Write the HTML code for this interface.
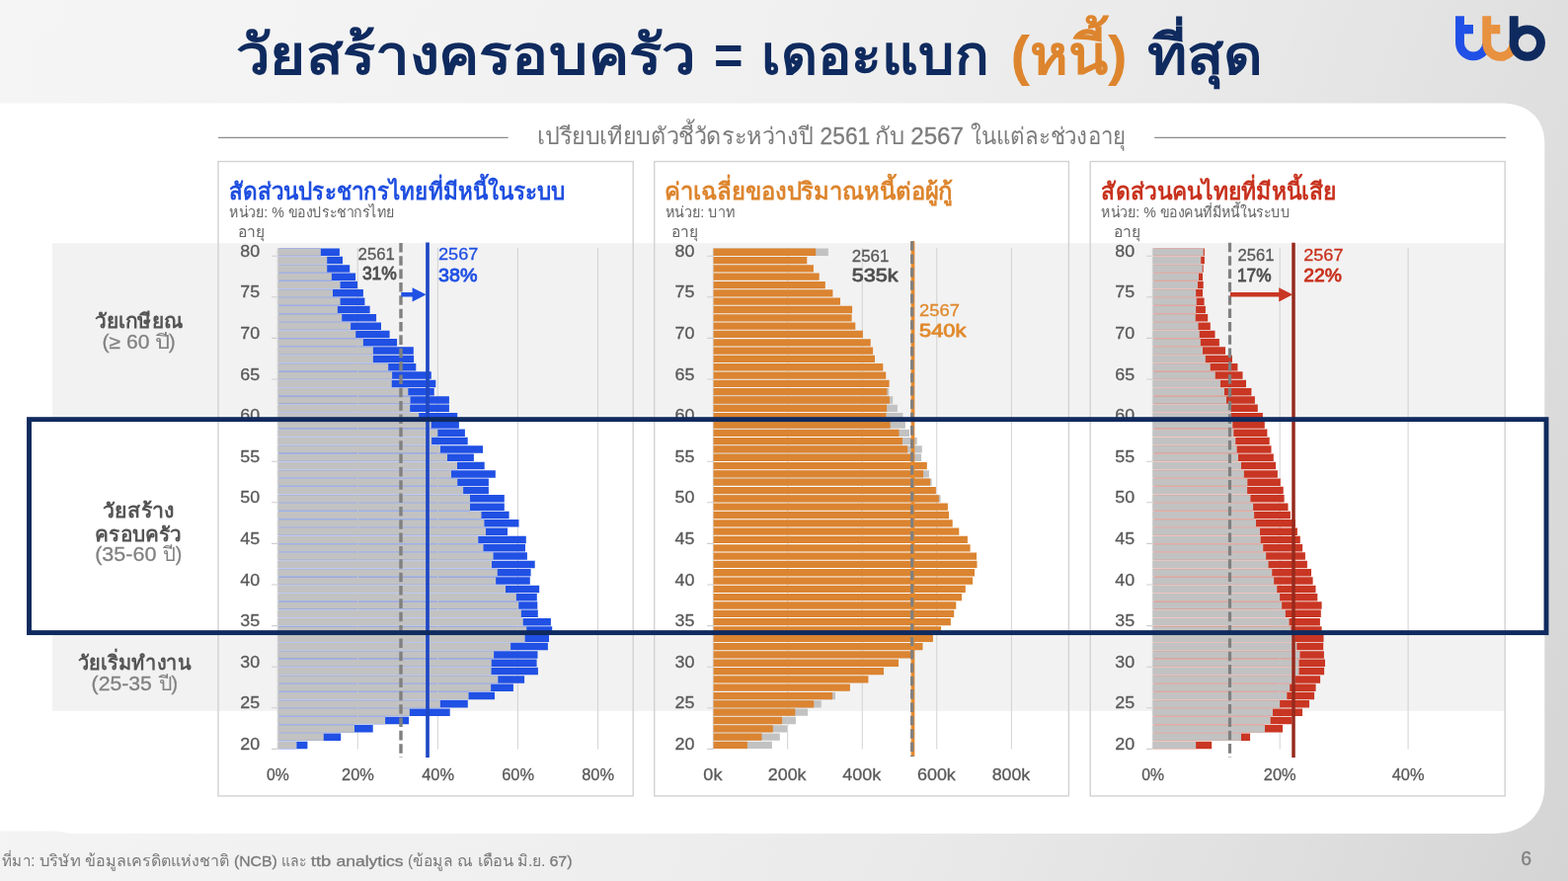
<!DOCTYPE html>
<html lang="th"><head><meta charset="utf-8"><title>วัยสร้างครอบครัว = เดอะแบก (หนี้) ที่สุด</title>
<style>html,body{margin:0;padding:0;background:#eee;overflow:hidden}body{width:1588px;height:892px;font-family:"Liberation Sans",sans-serif}</style></head>
<body>
<svg width="1588" height="892" viewBox="0 0 1588 892" style="display:block;will-change:transform;font-family:'Liberation Sans',sans-serif">
<defs>
<linearGradient id="bg" gradientUnits="userSpaceOnUse" x1="0" y1="0" x2="1693" y2="592"><stop offset="0" stop-color="#f5f5f5"/><stop offset="0.42" stop-color="#f0f0f0"/><stop offset="0.66" stop-color="#e9e9e9"/><stop offset="0.84" stop-color="#dfdfdf"/><stop offset="1" stop-color="#d4d4d4"/></linearGradient>
</defs>
<rect width="1588" height="892" fill="url(#bg)"/>
<path d="M-5 104.6H1522C1547.4 104.6 1564.3 120.4 1564.3 144V796C1564.3 824.8 1543.4 844 1512 844H78Q70 844 64 842.4Q60 841.5 54 841.5H-5Z" fill="#fff"/>
<rect x="53" y="246.2" width="1472" height="179" fill="#f2f2f2"/>
<rect x="53" y="640" width="1472" height="79.8" fill="#f2f2f2"/>
<path d="M221 139.4H514.7M1169.2 139.4H1525.2" stroke="#8c8c8c" stroke-width="1.2"/>
<rect x="221" y="163.5" width="420.2" height="642.4" fill="none" stroke="#d2d2d2" stroke-width="1.4"/>
<rect x="662.7" y="163.5" width="419.7" height="642.4" fill="none" stroke="#d2d2d2" stroke-width="1.4"/>
<rect x="1104.2" y="163.5" width="420" height="642.4" fill="none" stroke="#d2d2d2" stroke-width="1.4"/>
<path d="M281.2 251.1V758.62" stroke="#d0d0d0" stroke-width="1" fill="none"/>
<path d="M275 259.22H281.5M275 300.82H281.5M275 342.42H281.5M275 384.02H281.5M275 425.62H281.5M275 467.22H281.5M275 508.82H281.5M275 550.42H281.5M275 592.02H281.5M275 633.62H281.5M275 675.22H281.5M275 716.82H281.5M275 758.42H281.5" stroke="#cfcfcf" stroke-width="1.1" fill="none"/>
<path d="M282.1 251.31H324.9V259.21H282.1ZM282.1 259.63H331.2V267.53H282.1ZM282.1 267.95H331.2V275.85H282.1ZM282.1 276.27H335.9V284.17H282.1ZM282.1 284.59H344.6V292.49H282.1ZM282.1 292.91H337V300.81H282.1ZM282.1 301.23H344.6V309.13H282.1ZM282.1 309.55H341.9V317.45H282.1ZM282.1 317.87H346.2V325.77H282.1ZM282.1 326.19H355.1V334.09H282.1ZM282.1 334.51H360.2V342.41H282.1ZM282.1 342.83H367.9V350.73H282.1ZM282.1 351.15H377.9V359.05H282.1ZM282.1 359.47H377.9V367.37H282.1ZM282.1 367.79H393.2V375.69H282.1ZM282.1 376.11H397.1V384.01H282.1ZM282.1 384.43H396.8V392.33H282.1ZM282.1 392.75H413.3V400.65H282.1ZM282.1 401.07H415.6V408.97H282.1ZM282.1 409.39H415.2V417.29H282.1ZM282.1 417.71H424.2V425.61H282.1ZM282.1 426.03H436.8V433.93H282.1ZM282.1 434.35H443.3V442.25H282.1ZM282.1 442.67H437.1V450.57H282.1ZM282.1 450.99H446V458.89H282.1ZM282.1 459.31H453V467.21H282.1ZM282.1 467.63H463V475.53H282.1ZM282.1 475.95H457V483.85H282.1ZM282.1 484.27H463.2V492.17H282.1ZM282.1 492.59H469.1V500.49H282.1ZM282.1 500.91H476V508.81H282.1ZM282.1 509.23H476V517.13H282.1ZM282.1 517.55H487.5V525.45H282.1ZM282.1 525.87H490.4V533.77H282.1ZM282.1 534.19H492V542.09H282.1ZM282.1 542.51H484.3V550.41H282.1ZM282.1 550.83H489.5V558.73H282.1ZM282.1 559.15H499.6V567.05H282.1ZM282.1 567.47H498V575.37H282.1ZM282.1 575.79H503.8V583.69H282.1ZM282.1 584.11H502.1V592.01H282.1ZM282.1 592.43H512V600.33H282.1ZM282.1 600.75H522.9V608.65H282.1ZM282.1 609.07H525.2V616.97H282.1ZM282.1 617.39H527.9V625.29H282.1ZM282.1 625.71H529.8V633.61H282.1ZM282.1 634.03H533.2V641.93H282.1ZM282.1 642.35H531.7V650.25H282.1ZM282.1 650.67H517.1V658.57H282.1ZM282.1 658.99H500.1V666.89H282.1ZM282.1 667.31H497.8V675.21H282.1ZM282.1 675.63H497.6V683.53H282.1ZM282.1 683.95H504.3V691.85H282.1ZM282.1 692.27H497.1V700.17H282.1ZM282.1 700.59H474.6V708.49H282.1ZM282.1 708.91H445.9V716.81H282.1ZM282.1 717.23H414.9V725.13H282.1ZM282.1 725.55H390.1V733.45H282.1ZM282.1 733.87H359V741.77H282.1ZM282.1 742.19H327.8V750.09H282.1ZM282.1 750.51H300.4V758.41H282.1Z" fill="#7f97e8"/>
<path d="M362.3 251.1V758.62M443.4 251.1V758.62M524.4 251.1V758.62M605.5 251.1V758.62" stroke="#cdcdcd" stroke-opacity="0.8" stroke-width="1.1" fill="none"/>
<path d="M281.5 251.69H324.9V258.83H281.5ZM281.5 260.01H331.2V267.16H281.5ZM281.5 268.33H331.2V275.48H281.5ZM281.5 276.65H335.9V283.8H281.5ZM281.5 284.97H344.6V292.12H281.5ZM281.5 293.29H337V300.44H281.5ZM281.5 301.61H344.6V308.75H281.5ZM281.5 309.93H341.9V317.07H281.5ZM281.5 318.25H346.2V325.39H281.5ZM281.5 326.57H355.1V333.72H281.5ZM281.5 334.89H360.2V342.04H281.5ZM281.5 343.21H367.9V350.36H281.5ZM281.5 351.53H377.9V358.68H281.5ZM281.5 359.85H377.9V367H281.5ZM281.5 368.17H393.2V375.31H281.5ZM281.5 376.49H397.1V383.63H281.5ZM281.5 384.81H396.8V391.96H281.5ZM281.5 393.12H413.3V400.27H281.5ZM281.5 401.45H415.6V408.6H281.5ZM281.5 409.77H415.2V416.92H281.5ZM281.5 418.09H424.2V425.24H281.5ZM281.5 426.41H436.8V433.56H281.5ZM281.5 434.73H443.3V441.88H281.5ZM281.5 443.05H437.1V450.2H281.5ZM281.5 451.37H446V458.51H281.5ZM281.5 459.69H453V466.84H281.5ZM281.5 468H463V475.15H281.5ZM281.5 476.33H457V483.48H281.5ZM281.5 484.65H463.2V491.8H281.5ZM281.5 492.97H469.1V500.12H281.5ZM281.5 501.29H476V508.44H281.5ZM281.5 509.6H476V516.75H281.5ZM281.5 517.92H487.5V525.08H281.5ZM281.5 526.24H490.4V533.39H281.5ZM281.5 534.56H492V541.72H281.5ZM281.5 542.88H484.3V550.03H281.5ZM281.5 551.2H489.5V558.36H281.5ZM281.5 559.52H499.6V566.68H281.5ZM281.5 567.84H498V575H281.5ZM281.5 576.16H503.8V583.32H281.5ZM281.5 584.48H502.1V591.63H281.5ZM281.5 592.8H512V599.96H281.5ZM281.5 601.12H522.9V608.27H281.5ZM281.5 609.44H525.2V616.6H281.5ZM281.5 617.76H527.9V624.92H281.5ZM281.5 626.08H529.8V633.24H281.5ZM281.5 634.4H533.2V641.56H281.5ZM281.5 642.72H531.7V649.88H281.5ZM281.5 651.04H517.1V658.2H281.5ZM281.5 659.36H500.1V666.51H281.5ZM281.5 667.68H497.8V674.84H281.5ZM281.5 676H497.6V683.15H281.5ZM281.5 684.32H504.3V691.48H281.5ZM281.5 692.64H497.1V699.8H281.5ZM281.5 700.96H474.6V708.12H281.5ZM281.5 709.28H445.9V716.44H281.5ZM281.5 717.6H414.9V724.75H281.5ZM281.5 725.92H390.1V733.08H281.5ZM281.5 734.24H359V741.39H281.5ZM281.5 742.56H327.8V749.72H281.5ZM281.5 750.88H300.4V758.04H281.5Z" fill="#c2c2c2"/>
<path d="M324.9 251.51H343.9V259.01H324.9ZM331.2 259.83H347V267.33H331.2ZM331.2 268.15H354.2V275.65H331.2ZM335.9 276.47H360.1V283.97H335.9ZM344.6 284.79H362V292.29H344.6ZM337 293.11H367.9V300.61H337ZM344.6 301.43H369.4V308.93H344.6ZM341.9 309.75H374.6V317.25H341.9ZM346.2 318.07H381.1V325.57H346.2ZM355.1 326.39H386V333.89H355.1ZM360.2 334.71H394.6V342.21H360.2ZM367.9 343.03H402.1V350.53H367.9ZM377.9 351.35H418.8V358.85H377.9ZM377.9 359.67H419.1V367.17H377.9ZM393.2 367.99H421.3V375.49H393.2ZM397.1 376.31H436.8V383.81H397.1ZM396.8 384.63H441.3V392.13H396.8ZM413.3 392.95H439.7V400.45H413.3ZM415.6 401.27H454.9V408.77H415.6ZM415.2 409.59H454.9V417.09H415.2ZM424.2 417.91H463.2V425.41H424.2ZM436.8 426.23H464.9V433.73H436.8ZM443.3 434.55H470.9V442.05H443.3ZM437.1 442.87H473.7V450.37H437.1ZM446 451.19H489V458.69H446ZM453 459.51H479.9V467.01H453ZM463 467.83H490.7V475.33H463ZM457 476.15H501.8V483.65H457ZM463.2 484.47H494.9V491.97H463.2ZM469.1 492.79H494.9V500.29H469.1ZM476 501.11H510.8V508.61H476ZM476 509.43H510.8V516.93H476ZM487.5 517.75H515.6V525.25H487.5ZM490.4 526.07H525.5V533.57H490.4ZM492 534.39H514V541.89H492ZM484.3 542.71H532.8V550.21H484.3ZM489.5 551.03H532V558.53H489.5ZM499.6 559.35H533.9V566.85H499.6ZM498 567.67H541.7V575.17H498ZM503.8 575.99H537.6V583.49H503.8ZM502.1 584.31H536.8V591.81H502.1ZM512 592.63H546.2V600.13H512ZM522.9 600.95H543.8V608.45H522.9ZM525.2 609.27H544.3V616.77H525.2ZM527.9 617.59H544.8V625.09H527.9ZM529.8 625.91H557.9V633.41H529.8ZM533.2 634.23H559.2V641.73H533.2ZM531.7 642.55H556V650.05H531.7ZM517.1 650.87H554.9V658.37H517.1ZM500.1 659.19H544.5V666.69H500.1ZM497.8 667.51H543.6V675.01H497.8ZM497.6 675.83H544.9V683.33H497.6ZM504.3 684.15H531.1V691.65H504.3ZM497.1 692.47H519.9V699.97H497.1ZM474.6 700.79H501V708.29H474.6ZM445.9 709.11H473.8V716.61H445.9ZM414.9 717.43H455.7V724.93H414.9ZM390.1 725.75H414.1V733.25H390.1ZM359 734.07H377.7V741.57H359ZM327.8 742.39H345.2V749.89H327.8ZM300.4 750.71H311.4V758.21H300.4Z" fill="#2050e4"/>
<path d="M406 245.9V767" stroke="#808080" stroke-width="3.4" stroke-dasharray="9.55 3.8" fill="none"/>
<path d="M433 245.4V767" stroke="#1f48c4" stroke-width="3.7" fill="none"/>
<path d="M406.3 296.1H417.6V291.2L431.6 298.3L417.6 305.5V300.5H406.3Z" fill="#2050e4"/>
<text x="243.2" y="259.76" font-size="17.2" fill="#595959" stroke="#595959" stroke-width="0.3" textLength="19.9" lengthAdjust="spacingAndGlyphs">80</text>
<text x="243.2" y="301.36" font-size="17.2" fill="#595959" stroke="#595959" stroke-width="0.3" textLength="19.9" lengthAdjust="spacingAndGlyphs">75</text>
<text x="243.2" y="342.96" font-size="17.2" fill="#595959" stroke="#595959" stroke-width="0.3" textLength="19.9" lengthAdjust="spacingAndGlyphs">70</text>
<text x="243.2" y="384.56" font-size="17.2" fill="#595959" stroke="#595959" stroke-width="0.3" textLength="19.9" lengthAdjust="spacingAndGlyphs">65</text>
<text x="243.2" y="426.16" font-size="17.2" fill="#595959" stroke="#595959" stroke-width="0.3" textLength="19.9" lengthAdjust="spacingAndGlyphs">60</text>
<text x="243.2" y="467.76" font-size="17.2" fill="#595959" stroke="#595959" stroke-width="0.3" textLength="19.9" lengthAdjust="spacingAndGlyphs">55</text>
<text x="243.2" y="509.36" font-size="17.2" fill="#595959" stroke="#595959" stroke-width="0.3" textLength="19.9" lengthAdjust="spacingAndGlyphs">50</text>
<text x="243.2" y="550.96" font-size="17.2" fill="#595959" stroke="#595959" stroke-width="0.3" textLength="19.9" lengthAdjust="spacingAndGlyphs">45</text>
<text x="243.2" y="592.56" font-size="17.2" fill="#595959" stroke="#595959" stroke-width="0.3" textLength="19.9" lengthAdjust="spacingAndGlyphs">40</text>
<text x="243.2" y="634.16" font-size="17.2" fill="#595959" stroke="#595959" stroke-width="0.3" textLength="19.9" lengthAdjust="spacingAndGlyphs">35</text>
<text x="243.2" y="675.76" font-size="17.2" fill="#595959" stroke="#595959" stroke-width="0.3" textLength="19.9" lengthAdjust="spacingAndGlyphs">30</text>
<text x="243.2" y="717.36" font-size="17.2" fill="#595959" stroke="#595959" stroke-width="0.3" textLength="19.9" lengthAdjust="spacingAndGlyphs">25</text>
<text x="243.2" y="758.96" font-size="17.2" fill="#595959" stroke="#595959" stroke-width="0.3" textLength="19.9" lengthAdjust="spacingAndGlyphs">20</text>
<text x="270.1" y="790.3" font-size="17.3" fill="#595959" stroke="#595959" stroke-width="0.3" textLength="22.8" lengthAdjust="spacingAndGlyphs">0%</text>
<text x="346.1" y="790.3" font-size="17.3" fill="#595959" stroke="#595959" stroke-width="0.3" textLength="32.8" lengthAdjust="spacingAndGlyphs">20%</text>
<text x="427.2" y="790.3" font-size="17.3" fill="#595959" stroke="#595959" stroke-width="0.3" textLength="32.8" lengthAdjust="spacingAndGlyphs">40%</text>
<text x="508.2" y="790.3" font-size="17.3" fill="#595959" stroke="#595959" stroke-width="0.3" textLength="32.8" lengthAdjust="spacingAndGlyphs">60%</text>
<text x="589.2" y="790.3" font-size="17.3" fill="#595959" stroke="#595959" stroke-width="0.3" textLength="32.8" lengthAdjust="spacingAndGlyphs">80%</text>
<text x="362.6" y="263" font-size="17.3" fill="#595959" stroke="#595959" stroke-width="0.3" textLength="37.2" lengthAdjust="spacingAndGlyphs">2561</text>
<text x="366.9" y="282.8" font-size="19.1" fill="#505050" stroke="#505050" stroke-width="0.85" stroke-linejoin="round" textLength="35" lengthAdjust="spacingAndGlyphs">31%</text>
<text x="444" y="263" font-size="17.3" fill="#2050e4" stroke="#2050e4" stroke-width="0.3" textLength="40.4" lengthAdjust="spacingAndGlyphs">2567</text>
<text x="444" y="285" font-size="19.1" fill="#2050e4" stroke="#2050e4" stroke-width="0.85" stroke-linejoin="round" textLength="39.4" lengthAdjust="spacingAndGlyphs">38%</text>
<path d="M722.3 251.1V758.62" stroke="#d0d0d0" stroke-width="1" fill="none"/>
<path d="M716.1 259.22H722.6M716.1 300.82H722.6M716.1 342.42H722.6M716.1 384.02H722.6M716.1 425.62H722.6M716.1 467.22H722.6M716.1 508.82H722.6M716.1 550.42H722.6M716.1 592.02H722.6M716.1 633.62H722.6M716.1 675.22H722.6M716.1 716.82H722.6M716.1 758.42H722.6" stroke="#cfcfcf" stroke-width="1.1" fill="none"/>
<path d="M722.6 251.61H838.9V258.91H722.6ZM722.6 393.05H900.3V400.35H722.6ZM722.6 401.37H904.2V408.67H722.6ZM722.6 409.69H908.9V416.99H722.6ZM722.6 418.01H914.4V425.31H722.6ZM722.6 426.33H916.9V433.63H722.6ZM722.6 434.65H921V441.95H722.6ZM722.6 442.97H928.7V450.27H722.6ZM722.6 451.29H933.8V458.59H722.6ZM722.6 459.61H933.1V466.91H722.6ZM722.6 476.25H940.9V483.55H722.6ZM722.6 484.57H943.6V491.87H722.6ZM722.6 501.21H952.6V508.51H722.6ZM722.6 700.89H846.1V708.19H722.6ZM722.6 709.21H831.8V716.51H722.6ZM722.6 717.53H818V724.83H722.6ZM722.6 725.85H805.9V733.15H722.6ZM722.6 734.17H797.2V741.47H722.6ZM722.6 742.49H789.8V749.79H722.6ZM722.6 750.81H781.9V758.11H722.6Z" fill="#c2c2c2"/>
<path d="M797.6 251.1V758.62M873.3 251.1V758.62M948.7 251.1V758.62M1024.4 251.1V758.62" stroke="#cdcdcd" stroke-opacity="0.8" stroke-width="1.1" fill="none"/>
<path d="M722.6 251.61H826.1V258.91H722.6ZM722.6 259.93H817.3V267.23H722.6ZM722.6 268.25H823.9V275.55H722.6ZM722.6 276.57H829.7V283.87H722.6ZM722.6 284.89H835.8V292.19H722.6ZM722.6 293.21H843.4V300.51H722.6ZM722.6 301.53H851V308.83H722.6ZM722.6 309.85H863.1V317.15H722.6ZM722.6 318.17H862.6V325.47H722.6ZM722.6 326.49H866.3V333.79H722.6ZM722.6 334.81H873.9V342.11H722.6ZM722.6 343.13H881.7V350.43H722.6ZM722.6 351.45H884.1V358.75H722.6ZM722.6 359.77H886V367.07H722.6ZM722.6 368.09H894.3V375.39H722.6ZM722.6 376.41H897.2V383.71H722.6ZM722.6 384.73H900.6V392.03H722.6ZM722.6 393.05H898.4V400.35H722.6ZM722.6 401.37H900.9V408.67H722.6ZM722.6 409.69H898.1V416.99H722.6ZM722.6 418.01H897.4V425.31H722.6ZM722.6 426.33H901.6V433.63H722.6ZM722.6 434.65H910.5V441.95H722.6ZM722.6 442.97H914V450.27H722.6ZM722.6 451.29H919.2V458.59H722.6ZM722.6 459.61H923V466.91H722.6ZM722.6 467.93H938.8V475.23H722.6ZM722.6 476.25H935.1V483.55H722.6ZM722.6 484.57H942.1V491.87H722.6ZM722.6 492.89H947.9V500.19H722.6ZM722.6 501.21H950.9V508.51H722.6ZM722.6 509.53H959.9V516.83H722.6ZM722.6 517.85H961.1V525.15H722.6ZM722.6 526.17H964.7V533.47H722.6ZM722.6 534.49H971.3V541.79H722.6ZM722.6 542.81H979.9V550.11H722.6ZM722.6 551.13H982.6V558.43H722.6ZM722.6 559.45H989V566.75H722.6ZM722.6 567.77H989.5V575.07H722.6ZM722.6 576.09H987V583.39H722.6ZM722.6 584.41H985.1V591.71H722.6ZM722.6 592.73H977.8V600.03H722.6ZM722.6 601.05H974V608.35H722.6ZM722.6 609.37H968.3V616.67H722.6ZM722.6 617.69H966.2V624.99H722.6ZM722.6 626.01H962.9V633.31H722.6ZM722.6 634.33H953.1V641.63H722.6ZM722.6 642.65H944.9V649.95H722.6ZM722.6 650.97H934.5V658.27H722.6ZM722.6 659.29H922.8V666.59H722.6ZM722.6 667.61H910V674.91H722.6ZM722.6 675.93H895V683.23H722.6ZM722.6 684.25H879.4V691.55H722.6ZM722.6 692.57H860.9V699.87H722.6ZM722.6 700.89H843.1V708.19H722.6ZM722.6 709.21H824.2V716.51H722.6ZM722.6 717.53H805.3V724.83H722.6ZM722.6 725.85H792.1V733.15H722.6ZM722.6 734.17H782.8V741.47H722.6ZM722.6 742.49H771.5V749.79H722.6ZM722.6 750.81H756.9V758.11H722.6Z" fill="#db8431"/>
<path d="M924.5 244V766" stroke="#e88a2b" stroke-width="3.7" fill="none"/>
<path d="M923.7 244.2V766" stroke="#808080" stroke-width="3.3" stroke-dasharray="9.55 3.8" fill="none"/>
<text x="683.5" y="259.76" font-size="17.2" fill="#595959" stroke="#595959" stroke-width="0.3" textLength="19.9" lengthAdjust="spacingAndGlyphs">80</text>
<text x="683.5" y="301.36" font-size="17.2" fill="#595959" stroke="#595959" stroke-width="0.3" textLength="19.9" lengthAdjust="spacingAndGlyphs">75</text>
<text x="683.5" y="342.96" font-size="17.2" fill="#595959" stroke="#595959" stroke-width="0.3" textLength="19.9" lengthAdjust="spacingAndGlyphs">70</text>
<text x="683.5" y="384.56" font-size="17.2" fill="#595959" stroke="#595959" stroke-width="0.3" textLength="19.9" lengthAdjust="spacingAndGlyphs">65</text>
<text x="683.5" y="426.16" font-size="17.2" fill="#595959" stroke="#595959" stroke-width="0.3" textLength="19.9" lengthAdjust="spacingAndGlyphs">60</text>
<text x="683.5" y="467.76" font-size="17.2" fill="#595959" stroke="#595959" stroke-width="0.3" textLength="19.9" lengthAdjust="spacingAndGlyphs">55</text>
<text x="683.5" y="509.36" font-size="17.2" fill="#595959" stroke="#595959" stroke-width="0.3" textLength="19.9" lengthAdjust="spacingAndGlyphs">50</text>
<text x="683.5" y="550.96" font-size="17.2" fill="#595959" stroke="#595959" stroke-width="0.3" textLength="19.9" lengthAdjust="spacingAndGlyphs">45</text>
<text x="683.5" y="592.56" font-size="17.2" fill="#595959" stroke="#595959" stroke-width="0.3" textLength="19.9" lengthAdjust="spacingAndGlyphs">40</text>
<text x="683.5" y="634.16" font-size="17.2" fill="#595959" stroke="#595959" stroke-width="0.3" textLength="19.9" lengthAdjust="spacingAndGlyphs">35</text>
<text x="683.5" y="675.76" font-size="17.2" fill="#595959" stroke="#595959" stroke-width="0.3" textLength="19.9" lengthAdjust="spacingAndGlyphs">30</text>
<text x="683.5" y="717.36" font-size="17.2" fill="#595959" stroke="#595959" stroke-width="0.3" textLength="19.9" lengthAdjust="spacingAndGlyphs">25</text>
<text x="683.5" y="758.96" font-size="17.2" fill="#595959" stroke="#595959" stroke-width="0.3" textLength="19.9" lengthAdjust="spacingAndGlyphs">20</text>
<text x="712.35" y="790.3" font-size="17.3" fill="#595959" stroke="#595959" stroke-width="0.3" textLength="19.1" lengthAdjust="spacingAndGlyphs">0k</text>
<text x="777.85" y="790.3" font-size="17.3" fill="#595959" stroke="#595959" stroke-width="0.3" textLength="38.7" lengthAdjust="spacingAndGlyphs">200k</text>
<text x="853.35" y="790.3" font-size="17.3" fill="#595959" stroke="#595959" stroke-width="0.3" textLength="38.9" lengthAdjust="spacingAndGlyphs">400k</text>
<text x="928.95" y="790.3" font-size="17.3" fill="#595959" stroke="#595959" stroke-width="0.3" textLength="38.9" lengthAdjust="spacingAndGlyphs">600k</text>
<text x="1004.75" y="790.3" font-size="17.3" fill="#595959" stroke="#595959" stroke-width="0.3" textLength="38.5" lengthAdjust="spacingAndGlyphs">800k</text>
<text x="862.8" y="265.2" font-size="17.3" fill="#595959" stroke="#595959" stroke-width="0.3" textLength="37.5" lengthAdjust="spacingAndGlyphs">2561</text>
<text x="862.8" y="285" font-size="19.1" fill="#505050" stroke="#505050" stroke-width="0.85" stroke-linejoin="round" textLength="46.6" lengthAdjust="spacingAndGlyphs">535k</text>
<text x="931.1" y="320.1" font-size="17.3" fill="#e08a2e" stroke="#e08a2e" stroke-width="0.3" textLength="40.8" lengthAdjust="spacingAndGlyphs">2567</text>
<text x="931.1" y="340.9" font-size="19.1" fill="#e08a2e" stroke="#e08a2e" stroke-width="0.85" stroke-linejoin="round" textLength="47.2" lengthAdjust="spacingAndGlyphs">540k</text>
<path d="M1167.3 251.1V758.62" stroke="#d0d0d0" stroke-width="1" fill="none"/>
<path d="M1161.1 259.22H1167.6M1161.1 300.82H1167.6M1161.1 342.42H1167.6M1161.1 384.02H1167.6M1161.1 425.62H1167.6M1161.1 467.22H1167.6M1161.1 508.82H1167.6M1161.1 550.42H1167.6M1161.1 592.02H1167.6M1161.1 633.62H1167.6M1161.1 675.22H1167.6M1161.1 716.82H1167.6M1161.1 758.42H1167.6" stroke="#cfcfcf" stroke-width="1.1" fill="none"/>
<path d="M1168.2 251.31H1218.8V259.21H1168.2ZM1168.2 259.63H1216.2V267.53H1168.2ZM1168.2 267.95H1217.7V275.85H1168.2ZM1168.2 276.27H1214V284.17H1168.2ZM1168.2 284.59H1213V292.49H1168.2ZM1168.2 292.91H1211.1V300.81H1168.2ZM1168.2 301.23H1211.8V309.13H1168.2ZM1168.2 309.55H1211.1V317.45H1168.2ZM1168.2 317.87H1210.8V325.77H1168.2ZM1168.2 326.19H1213.6V334.09H1168.2ZM1168.2 334.51H1214.8V342.41H1168.2ZM1168.2 342.83H1215.9V350.73H1168.2ZM1168.2 351.15H1218V359.05H1168.2ZM1168.2 359.47H1220.9V367.37H1168.2ZM1168.2 367.79H1225.8V375.69H1168.2ZM1168.2 376.11H1230.8V384.01H1168.2ZM1168.2 384.43H1236V392.33H1168.2ZM1168.2 392.75H1240V400.65H1168.2ZM1168.2 401.07H1242V408.97H1168.2ZM1168.2 409.39H1246.5V417.29H1168.2ZM1168.2 417.71H1246.8V425.61H1168.2ZM1168.2 426.03H1248.3V433.93H1168.2ZM1168.2 434.35H1249.3V442.25H1168.2ZM1168.2 442.67H1251.2V450.57H1168.2ZM1168.2 450.99H1252.7V458.89H1168.2ZM1168.2 459.31H1254V467.21H1168.2ZM1168.2 467.63H1257V475.53H1168.2ZM1168.2 475.95H1259.9V483.85H1168.2ZM1168.2 484.27H1263.3V492.17H1168.2ZM1168.2 492.59H1263.1V500.49H1168.2ZM1168.2 500.91H1266.4V508.81H1168.2ZM1168.2 509.23H1269.1V517.13H1168.2ZM1168.2 517.55H1270.1V525.45H1168.2ZM1168.2 525.87H1272V533.77H1168.2ZM1168.2 534.19H1276V542.09H1168.2ZM1168.2 542.51H1276.7V550.41H1168.2ZM1168.2 550.83H1279.2V558.73H1168.2ZM1168.2 559.15H1282.1V567.05H1168.2ZM1168.2 567.47H1284.6V575.37H1168.2ZM1168.2 575.79H1288.2V583.69H1168.2ZM1168.2 584.11H1290.1V592.01H1168.2ZM1168.2 592.43H1293.2V600.33H1168.2ZM1168.2 600.75H1296.1V608.65H1168.2ZM1168.2 609.07H1298.1V616.97H1168.2ZM1168.2 617.39H1301.9V625.29H1168.2ZM1168.2 625.71H1305.6V633.61H1168.2ZM1168.2 634.03H1307.5V641.93H1168.2ZM1168.2 642.35H1311.4V650.25H1168.2ZM1168.2 650.67H1313.3V658.57H1168.2ZM1168.2 658.99H1316.5V666.89H1168.2ZM1168.2 667.31H1315.6V675.21H1168.2ZM1168.2 675.63H1315.6V683.53H1168.2ZM1168.2 683.95H1311.8V691.85H1168.2ZM1168.2 692.27H1306.1V700.17H1168.2ZM1168.2 700.59H1303.3V708.49H1168.2ZM1168.2 708.91H1296.1V716.81H1168.2ZM1168.2 717.23H1289V725.13H1168.2ZM1168.2 725.55H1286.7V733.45H1168.2ZM1168.2 733.87H1281V741.77H1168.2ZM1168.2 742.19H1257V750.09H1168.2ZM1168.2 750.51H1211.1V758.41H1168.2Z" fill="#df9085"/>
<path d="M1296.2 251.1V758.62M1426.1 251.1V758.62" stroke="#cdcdcd" stroke-opacity="0.8" stroke-width="1.1" fill="none"/>
<path d="M1167.6 251.69H1218.8V258.83H1167.6ZM1167.6 260.01H1216.2V267.16H1167.6ZM1167.6 268.33H1217.7V275.48H1167.6ZM1167.6 276.65H1214V283.8H1167.6ZM1167.6 284.97H1213V292.12H1167.6ZM1167.6 293.29H1211.1V300.44H1167.6ZM1167.6 301.61H1211.8V308.75H1167.6ZM1167.6 309.93H1211.1V317.07H1167.6ZM1167.6 318.25H1210.8V325.39H1167.6ZM1167.6 326.57H1213.6V333.72H1167.6ZM1167.6 334.89H1214.8V342.04H1167.6ZM1167.6 343.21H1215.9V350.36H1167.6ZM1167.6 351.53H1218V358.68H1167.6ZM1167.6 359.85H1220.9V367H1167.6ZM1167.6 368.17H1225.8V375.31H1167.6ZM1167.6 376.49H1230.8V383.63H1167.6ZM1167.6 384.81H1236V391.96H1167.6ZM1167.6 393.12H1240V400.27H1167.6ZM1167.6 401.45H1242V408.6H1167.6ZM1167.6 409.77H1246.5V416.92H1167.6ZM1167.6 418.09H1246.8V425.24H1167.6ZM1167.6 426.41H1248.3V433.56H1167.6ZM1167.6 434.73H1249.3V441.88H1167.6ZM1167.6 443.05H1251.2V450.2H1167.6ZM1167.6 451.37H1252.7V458.51H1167.6ZM1167.6 459.69H1254V466.84H1167.6ZM1167.6 468H1257V475.15H1167.6ZM1167.6 476.33H1259.9V483.48H1167.6ZM1167.6 484.65H1263.3V491.8H1167.6ZM1167.6 492.97H1263.1V500.12H1167.6ZM1167.6 501.29H1266.4V508.44H1167.6ZM1167.6 509.6H1269.1V516.75H1167.6ZM1167.6 517.92H1270.1V525.08H1167.6ZM1167.6 526.24H1272V533.39H1167.6ZM1167.6 534.56H1276V541.72H1167.6ZM1167.6 542.88H1276.7V550.03H1167.6ZM1167.6 551.2H1279.2V558.36H1167.6ZM1167.6 559.52H1282.1V566.68H1167.6ZM1167.6 567.84H1284.6V575H1167.6ZM1167.6 576.16H1288.2V583.32H1167.6ZM1167.6 584.48H1290.1V591.63H1167.6ZM1167.6 592.8H1293.2V599.96H1167.6ZM1167.6 601.12H1296.1V608.27H1167.6ZM1167.6 609.44H1298.1V616.6H1167.6ZM1167.6 617.76H1301.9V624.92H1167.6ZM1167.6 626.08H1305.6V633.24H1167.6ZM1167.6 634.4H1307.5V641.56H1167.6ZM1167.6 642.72H1311.4V649.88H1167.6ZM1167.6 651.04H1313.3V658.2H1167.6ZM1167.6 659.36H1316.5V666.51H1167.6ZM1167.6 667.68H1315.6V674.84H1167.6ZM1167.6 676H1315.6V683.15H1167.6ZM1167.6 684.32H1311.8V691.48H1167.6ZM1167.6 692.64H1306.1V699.8H1167.6ZM1167.6 700.96H1303.3V708.12H1167.6ZM1167.6 709.28H1296.1V716.44H1167.6ZM1167.6 717.6H1289V724.75H1167.6ZM1167.6 725.92H1286.7V733.08H1167.6ZM1167.6 734.24H1281V741.39H1167.6ZM1167.6 742.56H1257V749.72H1167.6ZM1167.6 750.88H1211.1V758.04H1167.6Z" fill="#c2c2c2"/>
<path d="M1218.8 251.51H1219.9V259.01H1218.8ZM1216.2 259.83H1219.9V267.33H1216.2ZM1217.7 268.15H1218.7V275.65H1217.7ZM1214 276.47H1218V283.97H1214ZM1213 284.79H1218.7V292.29H1213ZM1211.1 293.11H1218V300.61H1211.1ZM1211.8 301.43H1219.6V308.93H1211.8ZM1211.1 309.75H1220.9V317.25H1211.1ZM1210.8 318.07H1223.2V325.57H1210.8ZM1213.6 326.39H1225.8V333.89H1213.6ZM1214.8 334.71H1230.5V342.21H1214.8ZM1215.9 343.03H1234.9V350.53H1215.9ZM1218 351.35H1241V358.85H1218ZM1220.9 359.67H1248V367.17H1220.9ZM1225.8 367.99H1253.4V375.49H1225.8ZM1230.8 376.31H1258.5V383.81H1230.8ZM1236 384.63H1262V392.13H1236ZM1240 392.95H1267.4V400.45H1240ZM1242 401.27H1270.9V408.77H1242ZM1246.5 409.59H1273.8V417.09H1246.5ZM1246.8 417.91H1278.9V425.41H1246.8ZM1248.3 426.23H1280.8V433.73H1248.3ZM1249.3 434.55H1283.4V442.05H1249.3ZM1251.2 442.87H1285.7V450.37H1251.2ZM1252.7 451.19H1287.5V458.69H1252.7ZM1254 459.51H1289.8V467.01H1254ZM1257 467.83H1292V475.33H1257ZM1259.9 476.15H1293.9V483.65H1259.9ZM1263.3 484.47H1296.8V491.97H1263.3ZM1263.1 492.79H1299.7V500.29H1263.1ZM1266.4 501.11H1300.6V508.61H1266.4ZM1269.1 509.43H1304.5V516.93H1269.1ZM1270.1 517.75H1306.9V525.25H1270.1ZM1272 526.07H1311.8V533.57H1272ZM1276 534.39H1313.9V541.89H1276ZM1276.7 542.71H1316.8V550.21H1276.7ZM1279.2 551.03H1319.1V558.53H1279.2ZM1282.1 559.35H1321.9V566.85H1282.1ZM1284.6 567.67H1323.9V575.17H1284.6ZM1288.2 575.99H1328V583.49H1288.2ZM1290.1 584.31H1329.6V591.81H1290.1ZM1293.2 592.63H1332.5V600.13H1293.2ZM1296.1 600.95H1334.3V608.45H1296.1ZM1298.1 609.27H1338.6V616.77H1298.1ZM1301.9 617.59H1337.8V625.09H1301.9ZM1305.6 625.91H1336.9V633.41H1305.6ZM1307.5 634.23H1338.6V641.73H1307.5ZM1311.4 642.55H1340.5V650.05H1311.4ZM1313.3 650.87H1340.2V658.37H1313.3ZM1316.5 659.19H1340.9V666.69H1316.5ZM1315.6 667.51H1342V675.01H1315.6ZM1315.6 675.83H1341.1V683.33H1315.6ZM1311.8 684.15H1337.1V691.65H1311.8ZM1306.1 692.47H1332.6V699.97H1306.1ZM1303.3 700.79H1331.1V708.29H1303.3ZM1296.1 709.11H1326V716.61H1296.1ZM1289 717.43H1319V724.93H1289ZM1286.7 725.75H1308.4V733.25H1286.7ZM1281 734.07H1299V741.57H1281ZM1257 742.39H1266.1V749.89H1257ZM1211.1 750.71H1227.2V758.21H1211.1Z" fill="#c93623"/>
<path d="M1245.5 245.8V767" stroke="#808080" stroke-width="3.2" stroke-dasharray="9.55 3.8" fill="none"/>
<path d="M1310 245.8V767" stroke="#972a1d" stroke-width="3.5" fill="none"/>
<path d="M1246 296H1295.2V291.2L1309.2 298.3L1295.2 305.5V300.6H1246Z" fill="#c93623"/>
<text x="1129.2" y="259.76" font-size="17.2" fill="#595959" stroke="#595959" stroke-width="0.3" textLength="19.9" lengthAdjust="spacingAndGlyphs">80</text>
<text x="1129.2" y="301.36" font-size="17.2" fill="#595959" stroke="#595959" stroke-width="0.3" textLength="19.9" lengthAdjust="spacingAndGlyphs">75</text>
<text x="1129.2" y="342.96" font-size="17.2" fill="#595959" stroke="#595959" stroke-width="0.3" textLength="19.9" lengthAdjust="spacingAndGlyphs">70</text>
<text x="1129.2" y="384.56" font-size="17.2" fill="#595959" stroke="#595959" stroke-width="0.3" textLength="19.9" lengthAdjust="spacingAndGlyphs">65</text>
<text x="1129.2" y="426.16" font-size="17.2" fill="#595959" stroke="#595959" stroke-width="0.3" textLength="19.9" lengthAdjust="spacingAndGlyphs">60</text>
<text x="1129.2" y="467.76" font-size="17.2" fill="#595959" stroke="#595959" stroke-width="0.3" textLength="19.9" lengthAdjust="spacingAndGlyphs">55</text>
<text x="1129.2" y="509.36" font-size="17.2" fill="#595959" stroke="#595959" stroke-width="0.3" textLength="19.9" lengthAdjust="spacingAndGlyphs">50</text>
<text x="1129.2" y="550.96" font-size="17.2" fill="#595959" stroke="#595959" stroke-width="0.3" textLength="19.9" lengthAdjust="spacingAndGlyphs">45</text>
<text x="1129.2" y="592.56" font-size="17.2" fill="#595959" stroke="#595959" stroke-width="0.3" textLength="19.9" lengthAdjust="spacingAndGlyphs">40</text>
<text x="1129.2" y="634.16" font-size="17.2" fill="#595959" stroke="#595959" stroke-width="0.3" textLength="19.9" lengthAdjust="spacingAndGlyphs">35</text>
<text x="1129.2" y="675.76" font-size="17.2" fill="#595959" stroke="#595959" stroke-width="0.3" textLength="19.9" lengthAdjust="spacingAndGlyphs">30</text>
<text x="1129.2" y="717.36" font-size="17.2" fill="#595959" stroke="#595959" stroke-width="0.3" textLength="19.9" lengthAdjust="spacingAndGlyphs">25</text>
<text x="1129.2" y="758.96" font-size="17.2" fill="#595959" stroke="#595959" stroke-width="0.3" textLength="19.9" lengthAdjust="spacingAndGlyphs">20</text>
<text x="1156.2" y="790.3" font-size="17.3" fill="#595959" stroke="#595959" stroke-width="0.3" textLength="22.8" lengthAdjust="spacingAndGlyphs">0%</text>
<text x="1279.8" y="790.3" font-size="17.3" fill="#595959" stroke="#595959" stroke-width="0.3" textLength="32.8" lengthAdjust="spacingAndGlyphs">20%</text>
<text x="1409.7" y="790.3" font-size="17.3" fill="#595959" stroke="#595959" stroke-width="0.3" textLength="32.8" lengthAdjust="spacingAndGlyphs">40%</text>
<text x="1253.5" y="264.1" font-size="17.3" fill="#595959" stroke="#595959" stroke-width="0.3" textLength="36.9" lengthAdjust="spacingAndGlyphs">2561</text>
<text x="1253" y="284.7" font-size="19.1" fill="#505050" stroke="#505050" stroke-width="0.85" stroke-linejoin="round" textLength="34.5" lengthAdjust="spacingAndGlyphs">17%</text>
<text x="1320.2" y="264.1" font-size="17.3" fill="#c8321e" stroke="#c8321e" stroke-width="0.3" textLength="40.3" lengthAdjust="spacingAndGlyphs">2567</text>
<text x="1320.2" y="284.7" font-size="19.1" fill="#c8321e" stroke="#c8321e" stroke-width="0.85" stroke-linejoin="round" textLength="38.6" lengthAdjust="spacingAndGlyphs">22%</text>
<rect x="29.5" y="424.65" width="1536.5" height="215.95" fill="none" stroke="#0f2a5e" stroke-width="4.9"/>
<g fill="none" stroke-width="8.9"><path d="M1478.5 16.2V43.8A13.62 13.62 0 0 0 1505.72 43.8" stroke="#2050e6"/><rect x="1482.9" y="25" width="9.1" height="9.3" fill="#2050e6" stroke="none"/><path d="M1505.72 16.2V43.8A13.62 13.62 0 0 0 1532.96 43.8" stroke="#e8913f"/><rect x="1510.1" y="25" width="9.2" height="9.3" fill="#e8913f" stroke="none"/><path d="M1533.2 16.2V43.6" stroke="#0f2a5e"/><circle cx="1546.8" cy="43.6" r="13.7" stroke="#0f2a5e"/></g>
<text x="830.6" y="146" font-size="24" fill="#7c7c7c" stroke="#7c7c7c" stroke-width="0.3" textLength="50.6" lengthAdjust="spacingAndGlyphs">2561</text>
<text x="922.2" y="146" font-size="24" fill="#7c7c7c" stroke="#7c7c7c" stroke-width="0.3" textLength="53.8" lengthAdjust="spacingAndGlyphs">2567</text>
<text x="103.6" y="352.8" font-size="19.7" fill="#828282" stroke="#828282" stroke-width="0.3" textLength="47.8" lengthAdjust="spacingAndGlyphs">(≥ 60</text>
<text x="171" y="352.8" font-size="19.7" fill="#828282" stroke="#828282" stroke-width="0.3">)</text>
<text x="96.2" y="567.9" font-size="19.5" fill="#828282" stroke="#828282" stroke-width="0.3" textLength="62.2" lengthAdjust="spacingAndGlyphs">(35-60</text>
<text x="177.8" y="567.9" font-size="19.5" fill="#828282" stroke="#828282" stroke-width="0.3">)</text>
<text x="92.6" y="698.7" font-size="19.5" fill="#828282" stroke="#828282" stroke-width="0.3" textLength="61.3" lengthAdjust="spacingAndGlyphs">(25-35</text>
<text x="173.5" y="698.7" font-size="19.5" fill="#828282" stroke="#828282" stroke-width="0.3">)</text>
<text x="236.9" y="876.7" font-size="15" fill="#7a7a7a" stroke="#7a7a7a" stroke-width="0.3" textLength="44" lengthAdjust="spacingAndGlyphs">(NCB)</text>
<text x="314.8" y="876.7" font-size="15" fill="#7a7a7a" stroke="#7a7a7a" stroke-width="0.3" textLength="20.6" lengthAdjust="spacingAndGlyphs">ttb</text>
<text x="340.4" y="876.7" font-size="15" fill="#7a7a7a" stroke="#7a7a7a" stroke-width="0.3" textLength="68.2" lengthAdjust="spacingAndGlyphs">analytics</text>
<text x="556.4" y="876.7" font-size="15" fill="#7a7a7a" stroke="#7a7a7a" stroke-width="0.3" textLength="23.2" lengthAdjust="spacingAndGlyphs">67)</text>
<text x="1540.3" y="875.9" font-size="19.5" fill="#808080" stroke="#808080" stroke-width="0.3">6</text>
<text x="238.9" y="75.4" font-size="56" font-weight="bold" fill="#0f2a5e" textLength="465" lengthAdjust="spacingAndGlyphs">วัยสร้างครอบครัว</text>
<text x="723.1" y="75.4" font-size="56" font-weight="bold" fill="#0f2a5e" textLength="29.5" lengthAdjust="spacingAndGlyphs">=</text>
<text x="771.4" y="75.4" font-size="56" font-weight="bold" fill="#0f2a5e" textLength="230" lengthAdjust="spacingAndGlyphs">เดอะแบก</text>
<text x="1023.5" y="75.4" font-size="56" font-weight="bold" fill="#dd852e" textLength="118" lengthAdjust="spacingAndGlyphs">(หนี้)</text>
<text x="1161.5" y="75.4" font-size="56" font-weight="bold" fill="#0f2a5e" textLength="117" lengthAdjust="spacingAndGlyphs">ที่สุด</text>
<text x="544.3" y="145.8" font-size="24" fill="#7c7c7c" textLength="279" lengthAdjust="spacingAndGlyphs">เปรียบเทียบตัวชี้วัดระหว่างปี</text>
<text x="886.4" y="145.8" font-size="24" fill="#7c7c7c" textLength="30" lengthAdjust="spacingAndGlyphs">กับ</text>
<text x="982.9" y="145.8" font-size="24" fill="#7c7c7c" textLength="156.7" lengthAdjust="spacingAndGlyphs">ในแต่ละช่วงอายุ</text>
<text x="232.2" y="201.6" font-size="24" font-weight="bold" fill="#1f4fe0" textLength="340" lengthAdjust="spacingAndGlyphs">สัดส่วนประชากรไทยที่มีหนี้ในระบบ</text>
<text x="673.4" y="201.6" font-size="24" font-weight="bold" fill="#dd852e" textLength="292" lengthAdjust="spacingAndGlyphs">ค่าเฉลี่ยของปริมาณหนี้ต่อผู้กู้</text>
<text x="1115.4" y="201.6" font-size="24" font-weight="bold" fill="#c8321e" textLength="238" lengthAdjust="spacingAndGlyphs">สัดส่วนคนไทยที่มีหนี้เสีย</text>
<text x="232.2" y="219.6" font-size="15" fill="#666666" textLength="167.7" lengthAdjust="spacingAndGlyphs">หน่วย: % ของประชากรไทย</text>
<text x="673.8" y="219.6" font-size="15" fill="#666666" textLength="70.4" lengthAdjust="spacingAndGlyphs">หน่วย: บาท</text>
<text x="1115.3" y="219.6" font-size="15" fill="#666666" textLength="190.7" lengthAdjust="spacingAndGlyphs">หน่วย: % ของคนที่มีหนี้ในระบบ</text>
<text x="241.3" y="240.2" font-size="15.5" fill="#666666" textLength="27.2" lengthAdjust="spacingAndGlyphs">อายุ</text>
<text x="679.6" y="240.2" font-size="15.5" fill="#666666" textLength="27" lengthAdjust="spacingAndGlyphs">อายุ</text>
<text x="1128" y="240.2" font-size="15.5" fill="#666666" textLength="27.2" lengthAdjust="spacingAndGlyphs">อายุ</text>
<text x="95.6" y="331.9" font-size="20.5" font-weight="bold" fill="#555555" textLength="89.5" lengthAdjust="spacingAndGlyphs">วัยเกษียณ</text>
<text x="157.4" y="352.8" font-size="19.7" fill="#828282" textLength="14.6" lengthAdjust="spacingAndGlyphs">ปี</text>
<text x="104" y="523.9" font-size="20.5" font-weight="bold" fill="#555555" textLength="72.9" lengthAdjust="spacingAndGlyphs">วัยสร้าง</text>
<text x="96.35" y="547.7" font-size="20.5" font-weight="bold" fill="#555555" textLength="87.9" lengthAdjust="spacingAndGlyphs">ครอบครัว</text>
<text x="165.1" y="567.9" font-size="19.5" fill="#828282" textLength="12.5" lengthAdjust="spacingAndGlyphs">ปี</text>
<text x="78.8" y="677.7" font-size="20.5" font-weight="bold" fill="#555555" textLength="114.7" lengthAdjust="spacingAndGlyphs">วัยเริ่มทำงาน</text>
<text x="160.6" y="698.7" font-size="19.5" fill="#828282" textLength="13.1" lengthAdjust="spacingAndGlyphs">ปี</text>
<text x="2.1" y="876.7" font-size="16" fill="#7a7a7a" textLength="33.4" lengthAdjust="spacingAndGlyphs">ที่มา:</text>
<text x="39.5" y="876.7" font-size="16" fill="#7a7a7a" textLength="42.6" lengthAdjust="spacingAndGlyphs">บริษัท</text>
<text x="86.1" y="876.7" font-size="16" fill="#7a7a7a" textLength="146.3" lengthAdjust="spacingAndGlyphs">ข้อมูลเครดิตแห่งชาติ</text>
<text x="285.1" y="876.7" font-size="16" fill="#7a7a7a" textLength="25.4" lengthAdjust="spacingAndGlyphs">และ</text>
<text x="412.9" y="876.7" font-size="16" fill="#7a7a7a" textLength="45.9" lengthAdjust="spacingAndGlyphs">(ข้อมูล</text>
<text x="463.1" y="876.7" font-size="16" fill="#7a7a7a" textLength="15.7" lengthAdjust="spacingAndGlyphs">ณ</text>
<text x="483.5" y="876.7" font-size="16" fill="#7a7a7a" textLength="37" lengthAdjust="spacingAndGlyphs">เดือน</text>
<text x="524.1" y="876.7" font-size="16" fill="#7a7a7a" textLength="28.4" lengthAdjust="spacingAndGlyphs">มิ.ย.</text>
</svg>
</body></html>
